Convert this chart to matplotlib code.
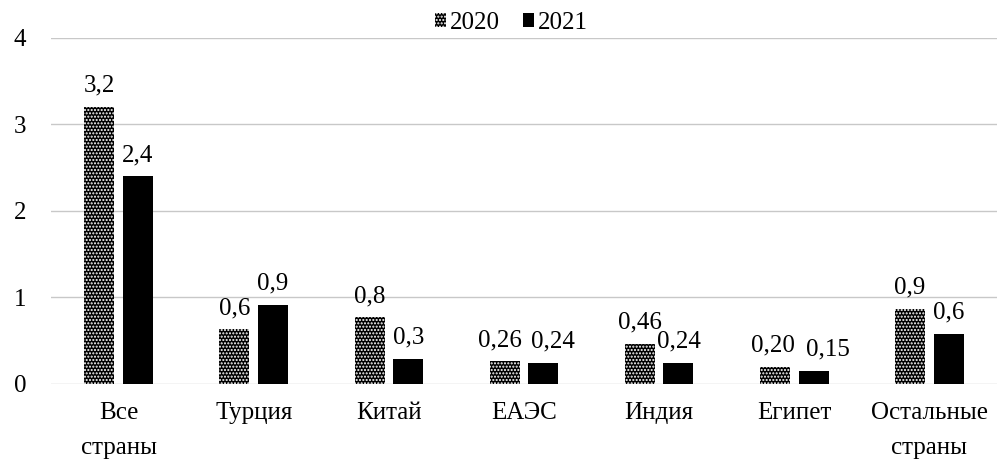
import matplotlib.pyplot as plt
import numpy as np

plt.rcParams['font.family'] = ['Liberation Serif', 'DejaVu Serif']
plt.rcParams['hatch.linewidth'] = 1.0

categories = ["Все\nстраны", "Турция", "Китай", "ЕАЭС", "Индия", "Египет", "Остальные\nстраны"]
values_2020 = [3.2, 0.63, 0.77, 0.26, 0.46, 0.20, 0.87]
values_2021 = [2.4, 0.91, 0.29, 0.24, 0.24, 0.15, 0.58]
labels_2020 = ["3,2", "0,6", "0,8", "0,26", "0,46", "0,20", "0,9"]
labels_2021 = ["2,4", "0,9", "0,3", "0,24", "0,24", "0,15", "0,6"]
# подписи сдвинуты вручную, как в исходнике (в пикселях)
shift_2020 = [0, 0, 0, -5, 0, -2, 0]
shift_2021 = [0, 0, 0, 10, 0, 14, 0]

FS = 18


def main():
    fig = plt.figure(figsize=(9.97, 4.62), dpi=100)
    ax = fig.add_axes([0.0512, 0.169, 0.9488, 0.749])

    x = np.arange(len(categories))
    w = 0.222
    off = 0.143

    b1 = ax.bar(x - off, values_2020, w, color="black", edgecolor="white",
                hatch=".....", linewidth=0, label="2020", zorder=2)
    b2 = ax.bar(x + off, values_2021, w, color="black", linewidth=0,
                label="2021", zorder=2)

    for bars, labs, shifts in ((b1, labels_2020, shift_2020), (b2, labels_2021, shift_2021)):
        for rect, lab, dx in zip(bars, labs, shifts):
            ax.annotate(lab, (rect.get_x() + rect.get_width() / 2, rect.get_height()),
                        xytext=(dx * 0.72, 11), textcoords="offset points",
                        ha="center", va="baseline", fontsize=FS)

    ax.set_ylim(0, 4)
    ax.set_xlim(-0.5, len(categories) - 0.5)
    ax.set_yticks([0, 1, 2, 3, 4])
    ax.set_xticks(x)
    ax.set_xticklabels(categories, fontsize=FS, linespacing=1.75)
    ax.tick_params(axis="both", length=0, labelsize=FS)
    ax.tick_params(axis="y", pad=18)
    ax.tick_params(axis="x", pad=13)
    ax.grid(axis="y", color="#c8c8c8", linewidth=1, zorder=0)
    ax.set_axisbelow(True)
    for s in ax.spines.values():
        s.set_visible(False)

    fig.legend(handles=[b1, b2], labels=["2020", "2021"], loc="center",
               bbox_to_anchor=(0.513, 1 - 23 / 462), ncol=2, frameon=False,
               fontsize=FS, handlelength=0.45, handleheight=0.45, handletextpad=0.15,
               columnspacing=0.9, borderaxespad=0, borderpad=0)

    fig.savefig("out.png", dpi=100)


if __name__ == "__main__":
    main()
